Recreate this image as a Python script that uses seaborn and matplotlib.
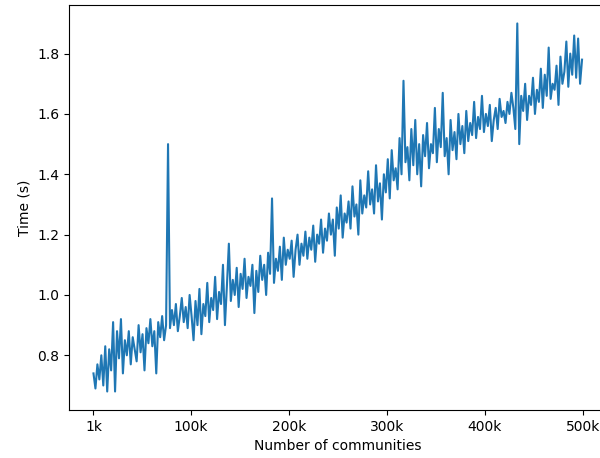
import numpy as np
import pandas as pd
import matplotlib
matplotlib.use("Agg")
import matplotlib.pyplot as plt
import seaborn as sns

# Number of communities (thousands) sampled every 2k
communities_k = list(range(1, 500, 2))

time_s = [
    0.74, 0.69, 0.77, 0.72, 0.80, 0.70, 0.83, 0.68, 0.82, 0.75,
    0.91, 0.68, 0.88, 0.79, 0.92, 0.74, 0.85, 0.80, 0.88, 0.77,
    0.86, 0.82, 0.78, 0.90, 0.81, 0.87, 0.75, 0.89, 0.84, 0.92,
    0.83, 0.88, 0.74, 0.91, 0.86, 0.93, 0.85, 0.90, 1.50, 0.89,
    0.95, 0.90, 0.97, 0.88, 0.93, 0.99, 0.91, 0.96, 0.89, 1.00,
    0.93, 0.85, 0.98, 0.90, 1.02, 0.87, 0.97, 0.93, 1.04, 0.91,
    0.99, 0.95, 1.06, 0.92, 1.01, 0.97, 1.10, 0.90, 1.03, 1.17,
    0.98, 1.05, 1.00, 1.09, 0.96, 1.07, 1.02, 1.12, 0.99, 1.06,
    1.03, 1.10, 0.94, 1.08, 1.01, 1.13, 1.05, 1.10, 1.00, 1.14,
    1.07, 1.32, 1.04, 1.12, 1.08, 1.16, 1.05, 1.19, 1.10, 1.15,
    1.12, 1.18, 1.06, 1.15, 1.20, 1.10, 1.17, 1.13, 1.21, 1.12,
    1.19, 1.15, 1.23, 1.11, 1.20, 1.17, 1.25, 1.14, 1.22, 1.18,
    1.27, 1.20, 1.25, 1.13, 1.29, 1.22, 1.33, 1.19, 1.27, 1.24,
    1.31, 1.22, 1.36, 1.26, 1.30, 1.20, 1.38, 1.27, 1.33, 1.29,
    1.41, 1.30, 1.35, 1.27, 1.43, 1.31, 1.37, 1.25, 1.40, 1.34,
    1.45, 1.32, 1.48, 1.38, 1.42, 1.35, 1.52, 1.40, 1.71, 1.44,
    1.49, 1.38, 1.55, 1.43, 1.58, 1.40, 1.50, 1.36, 1.53, 1.46,
    1.57, 1.42, 1.50, 1.47, 1.62, 1.44, 1.55, 1.49, 1.67, 1.46,
    1.52, 1.40, 1.58, 1.48, 1.54, 1.45, 1.60, 1.50, 1.56, 1.47,
    1.61, 1.51, 1.57, 1.53, 1.64, 1.52, 1.59, 1.55, 1.66, 1.54,
    1.60, 1.56, 1.63, 1.51, 1.58, 1.62, 1.55, 1.65, 1.59, 1.61,
    1.57, 1.64, 1.60, 1.67, 1.62, 1.55, 1.90, 1.50, 1.66, 1.61,
    1.70, 1.58, 1.66, 1.63, 1.72, 1.60, 1.68, 1.64, 1.75, 1.62,
    1.73, 1.66, 1.82, 1.65, 1.70, 1.68, 1.76, 1.63, 1.79, 1.70,
    1.74, 1.84, 1.69, 1.80, 1.73, 1.86, 1.72, 1.85, 1.70, 1.78,
]

tick_values = [1000, 100000, 200000, 300000, 400000, 500000]
tick_labels = ["1k", "100k", "200k", "300k", "400k", "500k"]

df = pd.DataFrame({
    "communities": [k * 1000 for k in communities_k],
    "time": time_s,
})

fig = plt.figure(figsize=(6.0, 4.58), dpi=100)
ax = fig.add_axes([0.115, 0.105, 0.8975, 0.884])
sns.lineplot(data=df, x="communities", y="time", ax=ax, color="#1f77b4", linewidth=1.5)
ax.set_xlim(-23950, 524950)
ax.set_xticks(tick_values)
ax.set_xticklabels(tick_labels)
ax.set_xlabel("Number of communities")
ax.set_ylabel("Time (s)")
fig.savefig("out.png", dpi=100)
